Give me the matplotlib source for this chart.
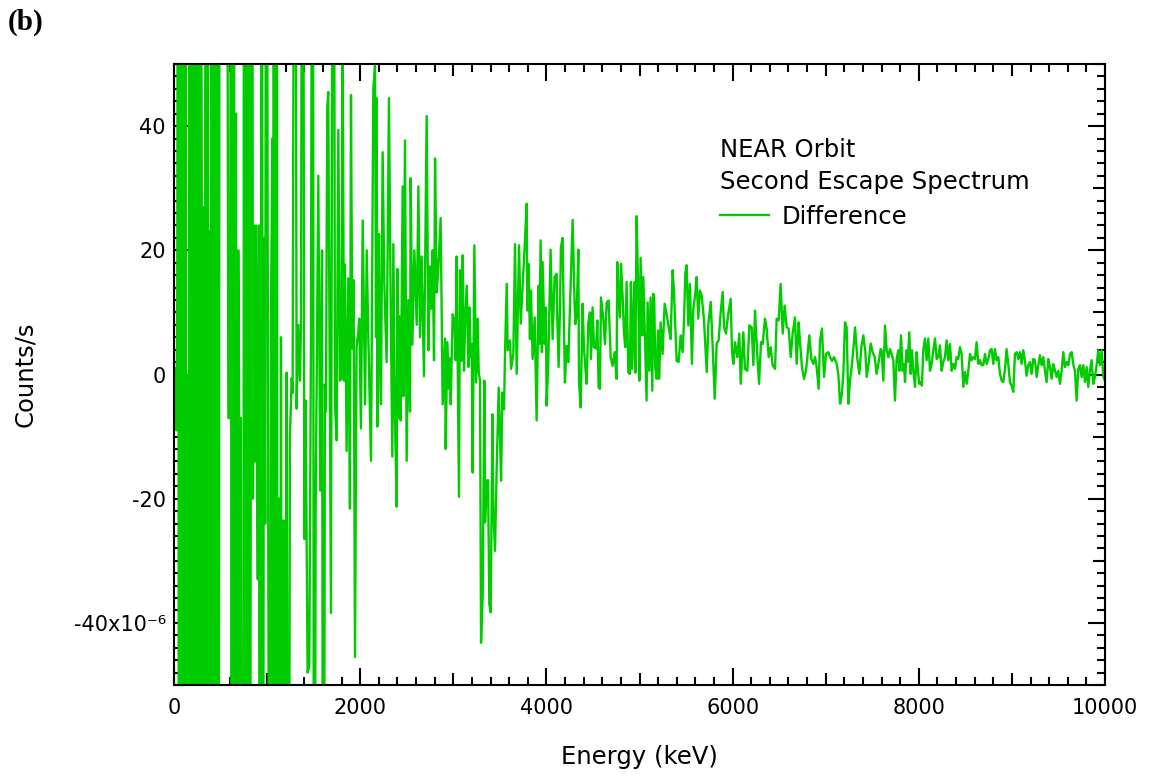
import numpy as np
import matplotlib.pyplot as plt
from matplotlib.ticker import MultipleLocator, FuncFormatter

# ----------------------------------------------------------
# Difference spectrum (counts/s in units of 1e-6)
# values of +/-150 stand for excursions that leave the frame
# ----------------------------------------------------------

energy_0_1000 = [
    0, 10, 20, 27, 35, 45, 53, 61, 69, 77,
    85, 93, 101, 109, 117, 125, 133, 145, 152, 160,
    168, 176, 184, 192, 200, 208, 216, 224, 232, 240,
    248, 256, 264, 272, 282, 298, 308, 318, 326, 334,
    343, 352, 361, 370, 380, 390, 400, 410, 420, 430,
    440, 450, 460, 470, 480, 490, 520, 550, 575, 584,
    604, 612, 620, 628, 636, 644, 652, 666, 675, 690,
    700, 706, 718, 730, 745, 752, 760, 772, 782, 790,
    800, 812, 825, 838, 848, 860, 870, 880, 890, 900,
    912, 922, 932, 945, 955, 965, 980, 990,
]
counts_0_1000 = [
    0, 0.3, 1, -9, 12, 150, -150, 150, -150, 150,
    -150, 150, -150, 150, -150, 150, -150, -150, 0, -150,
    150, -150, 150, -150, 150, -150, 150, -150, 150, -150,
    150, -150, 150, -150, 150, 28, -150, 27, -150, 28,
    150, -150, 150, -150, 23, -150, 150, -150, 150, -150,
    150, -150, 150, -40, -150, 150, 90, 100, 60, -7,
    -7, 150, -150, 150, -150, 150, -150, 42, -150, 20,
    -6, -150, -7, -150, -150, 150, -150, 150, -150, -6,
    150, -150, -13, 150, -20, 24, -14, 24, -10, -33,
    24, -150, -19, 150, -150, 22, -24, 150,
]

energy_1000_2000 = [
    1006, 1013, 1030, 1041, 1056, 1064, 1072, 1080, 1088, 1096,
    1104, 1112, 1127, 1138, 1149, 1163, 1177, 1192, 1210, 1228,
    1245, 1264, 1274, 1300, 1317, 1335, 1353, 1364, 1382, 1400,
    1414, 1435, 1453, 1471, 1490, 1505, 1521, 1550, 1571, 1590,
    1604, 1621, 1632, 1646, 1657, 1675, 1686, 1711, 1729, 1747,
    1765, 1783, 1800, 1811, 1825, 1836, 1854, 1872, 1890, 1901,
    1915, 1929, 1944, 1961, 1979, 1990,
]
counts_1000_2000 = [
    23, -33, -150, 8, 38, -150, 150, -150, 150, -150,
    150, -150, -20, -150, 6, -150, -23.5, -150, 0.3, -150,
    -10, -0.6, -3, 150, -5.5, 8, -1, 8, 150, -26.5,
    -4.2, -48, -47, 4.8, 150, -150, -23, 32, -18.7, 20,
    -150, -1.6, -6, 43, 45.5, -6, -38.4, 150, -4.8, -10.6,
    39.4, -1, -0.5, 60, -1, 17.7, -12.3, 15.5, -21.6, 45,
    4.2, 15.2, -45.5, 4.5, 6.8, 9,
]

energy_2000_3100 = [
    2008, 2027, 2052, 2070, 2088, 2116, 2141, 2159, 2170, 2177,
    2184, 2202, 2213, 2223, 2241, 2259, 2284, 2309, 2327, 2345,
    2356, 2374, 2392, 2399, 2410, 2420, 2435, 2456, 2463, 2481,
    2499, 2517, 2535, 2542, 2560, 2582, 2607, 2625, 2642, 2660,
    2685, 2714, 2732, 2750, 2761, 2778, 2793, 2804, 2821, 2839,
    2864, 2886, 2911, 2918, 2936, 2954, 2965, 2972, 2993, 3011,
    3025, 3036, 3061,
]
counts_2000_3100 = [
    -8.7, 24.8, -4.8, 20, 5.5, -13.9, 46, 49.7, 6, 44.5,
    -8.4, 22.6, 1.6, -4.8, 35.8, 14.5, 2, 44.5, 12, -13.2,
    21, -7.7, -21.3, 17, -7, 9.4, -7.4, 30.3, -3.5, 37.7,
    -13.9, 12, -6, 31.6, 4.8, 20, 8, 30.3, 6, 19,
    -0.3, 41.6, 3.9, 17.4, 10.6, 20, 2.3, 34.8, 13.2, 17,
    25.2, -4.8, 5.8, -12, 5.2, -2.3, 2.6, -4.8, 9.7, 8.7,
    2.3, 19, -19.7,
]

energy_3100_3750 = [
    3072, 3090, 3101, 3115, 3126, 3144, 3162, 3173, 3187, 3198,
    3208, 3226, 3244, 3262, 3273, 3287, 3298, 3316, 3334, 3341,
    3359, 3373, 3387, 3402, 3420, 3430, 3448, 3466, 3488, 3502,
    3513, 3527, 3545, 3556, 3574, 3584, 3609, 3620, 3645, 3663,
    3681, 3706, 3724,
]
counts_3100_3750 = [
    16.8, 2.2, 19.2, 0.6, 7.9, 14.3, 1.2, 10.8, 2.8, 4.9,
    -15.8, 20.8, -1.3, 9, 0.4, -1, -43.2, -35.4, -1, -23.8,
    -17.1, -17, -37, -38.3, -6.4, -22, -28.4, -15, -2.1, -9.9,
    -17.1, -2.9, -5.6, 3.9, 14.6, 3.9, 5.5, 0.9, 3.3, 21,
    0.1, 20.8, 8.2,
]

energy_3750_5650 = [
    3770, 3788, 3795, 3809, 3823, 3834, 3852, 3874, 3895, 3916,
    3924, 3938, 3952, 3959, 3981, 3995, 4002, 4020, 4045, 4067,
    4088, 4110, 4117, 4131, 4146, 4156, 4174, 4185, 4199, 4217,
    4235, 4253, 4282, 4300, 4310, 4325, 4343, 4350, 4368, 4389,
    4403, 4418, 4432, 4450, 4468, 4479, 4496, 4511, 4532, 4547,
    4561, 4575, 4586, 4611, 4629, 4647, 4668, 4690, 4711, 4733,
    4754, 4761, 4776, 4790, 4801, 4819, 4833, 4847, 4862, 4880,
    4897, 4908, 4922, 4944, 4955, 4969, 4987, 4998, 5012, 5030,
    5041, 5059, 5076, 5087, 5105, 5119, 5137, 5148, 5159, 5169,
    5184, 5198, 5212, 5227, 5248, 5270, 5291, 5313, 5334, 5356,
    5370, 5384, 5399, 5420, 5442, 5463, 5477, 5492, 5506, 5524,
    5542, 5563, 5578, 5599, 5613, 5631, 5649,
]
counts_3750_5650 = [
    21.6, 27.5, 10.3, 17.8, 5.7, 13.5, 2.5, 9.2, -7.4, 14.3,
    4.9, 21.6, 3.6, 18.1, 4.9, 10.8, -5, 1.7, 20.1, 5.7,
    15.7, 16.2, 9, 1.2, 10.8, 20.5, 22, 10.8, -1.3, 4.6,
    2, 10.8, 24.9, 13, 8.1, 9.5, 20.1, -1, -5.3, 11.4,
    4.4, 1.2, -1.5, 8.4, 10, 2.5, 10.8, 4.4, 4.2, 8.7,
    -2.1, -2.3, 12.4, 9, 4.9, 11.6, 11.9, 2.8, 1.4, 3.6,
    -0.7, 18.1, 13, 9.2, 17.8, 12.4, 6.8, 4.4, 14.9, 0.3,
    0.1, 14.9, 0.9, 14.9, 0.3, 25.5, 13, -1, 18.8, 6.3,
    15.7, 5.2, -4.2, 11.6, 0.6, 12.4, -2.6, 13, 11.6, 1.2,
    -0.7, 7.1, -0.7, 8.4, 3.3, 11.4, 9.8, 7.6, 5.7, 16.8,
    13.5, 7.9, 2.2, 2, 6.3, 3.6, 8.1, 16.2, 17.6, 7.9,
    14.6, 1.7, 10.5, 13, 15.7, 9, 13.5,
]

energy_5650_7600 = [
    5668, 5693, 5722, 5740, 5765, 5786, 5808, 5829, 5850, 5872,
    5893, 5908, 5929, 5951, 5979, 5994, 6008, 6026, 6051, 6072,
    6087, 6115, 6133, 6158, 6180, 6205, 6223, 6241, 6266, 6284,
    6305, 6323, 6348, 6366, 6387, 6409, 6430, 6456, 6473, 6495,
    6516, 6538, 6559, 6581, 6602, 6624, 6645, 6670, 6688, 6710,
    6724, 6745, 6767, 6788, 6803, 6824, 6846, 6867, 6885, 6903,
    6924, 6939, 6960, 6982, 7003, 7028, 7046, 7068, 7089, 7118,
    7136, 7154, 7172, 7189, 7207, 7225, 7243, 7261, 7279, 7297,
    7315, 7340, 7361, 7383, 7404, 7426, 7440, 7461, 7483, 7504,
    7526, 7547, 7569, 7590,
]
counts_5650_7600 = [
    12.7, 8.7, 0.4, 8.2, 11.7, 4.4, -3.9, 5, 5.5, 10,
    13.3, 7.6, 6.6, 9.5, 12.2, 3.6, 1.7, 5.2, 2.8, 6.6,
    -1.5, 6.8, 0.9, 0.6, 7.9, 7.6, 1.5, 10.3, 2.8, -1.5,
    5.2, 4.9, 9, 7.4, 2.8, 4.4, 1.5, 0.9, 9, 8.7,
    14.6, 6.6, 11.1, 7.6, 7.4, 2.8, 6.6, 9.2, 1.7, 8.4,
    5.2, 1.2, -0.7, 0.6, 2.8, 6.3, 2.5, 1.7, 2.8, 1.2,
    -2.3, 5.5, 7.4, -0.4, 3.3, 3.6, 2.8, 2.2, 2.8, 1.7,
    0, -4.7, -3.4, 0, 8.4, 7.6, -4.7, -1, 1.2, 4.1,
    7.6, 2.5, 0.1, 4.4, 6.3, 3.6, -0.4, 1.7, 5, 3.6,
    2.8, 0.1, 2, 4.1,
]

energy_7600_10000 = [
    7601, 7619, 7637, 7655, 7673, 7690, 7708, 7726, 7744, 7762,
    7780, 7791, 7809, 7826, 7841, 7852, 7869, 7880, 7898, 7912,
    7927, 7941, 7959, 7977, 7991, 8005, 8020, 8034, 8048, 8066,
    8084, 8102, 8120, 8138, 8156, 8174, 8192, 8210, 8227, 8245,
    8263, 8281, 8299, 8317, 8335, 8353, 8371, 8389, 8406, 8424,
    8442, 8460, 8478, 8496, 8514, 8532, 8550, 8568, 8585, 8603,
    8621, 8639, 8657, 8675, 8693, 8711, 8729, 8747, 8764, 8782,
    8800, 8818, 8836, 8854, 8872, 8890, 8908, 8926, 8943, 8961,
    8979, 8997, 9015, 9033, 9051, 9069, 9087, 9105, 9122, 9140,
    9158, 9176, 9194, 9212, 9230, 9248, 9266, 9284, 9301, 9319,
    9337, 9355, 9373, 9391, 9409, 9427, 9445, 9463, 9480, 9498,
    9516, 9534, 9552, 9570, 9588, 9606, 9624, 9642, 9659, 9677,
    9695, 9713, 9731, 9749, 9767, 9785, 9803, 9820, 9838, 9856,
    9874, 9892, 9910, 9928, 9946, 9964, 9982, 9999,
]
counts_7600_10000 = [
    3.9, -1, 7.9, 3.9, 2.8, 4.1, 3.3, 2.3, -4.2, 2.5,
    3.9, 0.6, 6.3, 0.6, 1.7, -1.2, 3.9, 2, 6.8, 0.1,
    3.9, 0.6, -2, 3.6, 0.6, -1.5, -1.2, -1.8, 3.9, 5.8,
    2.3, 5.8, 0.6, 1.7, 3.9, 5.8, 2.5, 2.8, 4.7, 0.6,
    2, 2.8, 5.5, 2.3, 4.9, 0.6, 1.7, 0.9, 2.8, 2.5,
    4.4, 3.3, -2, 0.4, -1.5, 0.6, 3.3, 2.3, 2.8, 2.5,
    5.2, 1.7, 2.3, 1.5, 1.5, 3.3, 1.7, 2.5, 3.9, 4.1,
    1.7, 4.1, 2.3, 2.8, 0.1, -1, -1.2, 0.9, 4.1, 1.7,
    -1.2, -1.8, -2.8, 3.3, 3.6, 2.5, 3.6, 1.7, 3.9, 2.3,
    -0.2, 1.5, 2, 0.1, 2.5, 2.3, -0.4, 1.5, 3.1, 1.5,
    2.8, 0.6, -1.2, 2.5, 1.2, -0.7, 1.7, 0.6, -0.4, 0.6,
    -1.5, 0.6, 3.6, 1.2, 2, 1.5, 3.3, 3.6, 1.7, 0.6,
    -4.2, 0.9, 1.5, -0.4, 1.5, -1.2, 1.2, -2, 0.6, 2.3,
    -1.5, -0.4, 1.5, 3.9, 1.5, 3.9, -0.4, -1,
]

energy = np.concatenate([energy_0_1000, energy_1000_2000, energy_2000_3100,
                         energy_3100_3750, energy_3750_5650, energy_5650_7600,
                         energy_7600_10000])
counts = np.concatenate([counts_0_1000, counts_1000_2000, counts_2000_3100,
                         counts_3100_3750, counts_3750_5650, counts_5650_7600,
                         counts_7600_10000])

# ----------------------------------------------------------
# Figure
# ----------------------------------------------------------

plt.rcParams['font.family'] = 'DejaVu Sans'
plt.rcParams['axes.unicode_minus'] = False

W, H = 1151, 777
fig = plt.figure(figsize=(W/100, H/100), dpi=100)
ax = fig.add_axes([174/W, 1 - 685/H, (1105 - 174)/W, (685 - 64)/H])

ax.plot(energy, counts, color='#00cc00', lw=1.7, label='Difference')

ax.set_xlim(0, 10000)
ax.set_ylim(-50, 50)

ax.xaxis.set_major_locator(MultipleLocator(1000))
ax.xaxis.set_minor_locator(MultipleLocator(200))
ax.yaxis.set_major_locator(MultipleLocator(10))
ax.yaxis.set_minor_locator(MultipleLocator(2))


def xfmt(v, pos):
    return f'{v:.0f}' if int(round(v)) % 2000 == 0 else ''


def yfmt(v, pos):
    iv = int(round(v))
    if iv % 20:
        return ''
    if iv == -40:
        return '-40x10\u207b\u2076'
    return str(iv)


ax.xaxis.set_major_formatter(FuncFormatter(xfmt))
ax.yaxis.set_major_formatter(FuncFormatter(yfmt))

for s in ax.spines.values():
    s.set_linewidth(1.5)

ax.tick_params(which='both', direction='in', top=True, right=True,
               width=1.5, colors='black')
ax.tick_params(which='major', length=12, labelsize=15)
ax.tick_params(axis='x', which='major', pad=9)
ax.tick_params(axis='y', which='major', pad=6)
ax.tick_params(which='minor', length=5.5)

# shorter "half-way" ticks between the labelled ones
for axis, step in ((ax.xaxis, 2000), (ax.yaxis, 20)):
    locs = axis.get_majorticklocs()
    for t, loc in zip(axis.get_major_ticks(len(locs)), locs):
        if int(round(loc)) % step:
            t.tick1line.set_markersize(8.5)
            t.tick2line.set_markersize(8.5)

ax.set_xlabel('Energy (keV)', fontsize=17.5)
ax.set_ylabel('Counts/s', fontsize=17.5)
ax.xaxis.set_label_coords(0.5, (685 - 757)/621)
ax.xaxis.label.set_va('center')
ax.yaxis.set_label_coords((25 - 174)/931, 0.5)
ax.yaxis.label.set_va('center')

leg = ax.legend(loc='upper left', bbox_to_anchor=(720/W, 1 - 138/H),
                bbox_transform=fig.transFigure, frameon=False,
                fontsize=17.5, title='NEAR Orbit\nSecond Escape Spectrum',
                title_fontsize=17.5, alignment='left', handlelength=2.0,
                handletextpad=0.55, borderpad=0, borderaxespad=0,
                labelspacing=0.45)
leg.get_title().set_linespacing(1.4)

fig.text(8/W, 1 - 9/H, '(b)', fontsize=21, fontweight='bold',
         family='Liberation Serif', ha='left', va='top')

fig.savefig('out.png', dpi=100)
